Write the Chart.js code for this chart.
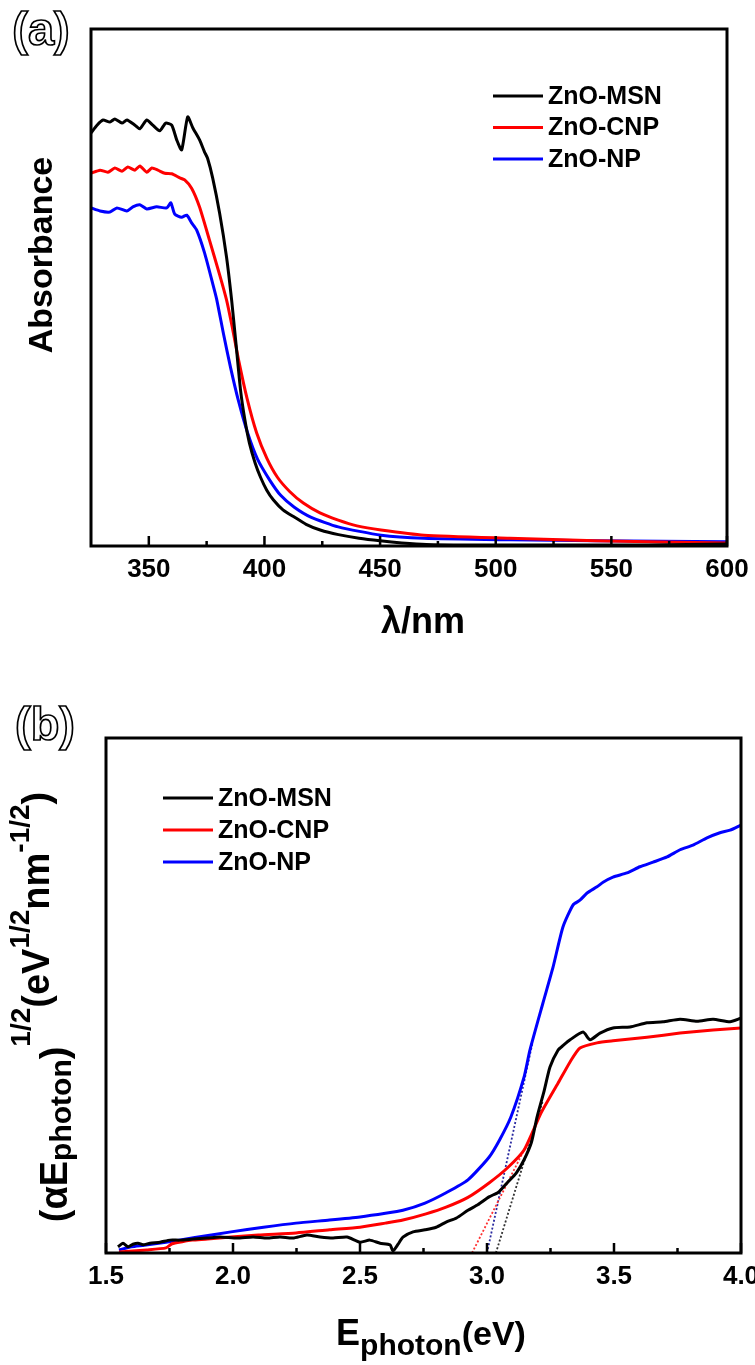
<!DOCTYPE html>
<html>
<head>
<meta charset="utf-8">
<script src="https://cdn.jsdelivr.net/npm/chart.js"></script>
<style>
  html, body { margin: 0; padding: 0; background: #fff; }
  #wrap { position: relative; width: 755px; height: 1365px; overflow: hidden; }
  #wrap canvas { position: absolute; left: 0; }
</style>
</head>
<body>
<div id="wrap">
  <canvas id="absChart" width="755" height="680" style="top:0"></canvas>
  <canvas id="taucChart" width="755" height="685" style="top:680px"></canvas>
</div>
<script>
const FONT = "'Liberation Sans', Arial, Helvetica, sans-serif";

// ---- (a) absorbance spectra ----
const absTicks = [350, 400, 450, 500, 550, 600];
const absMinorTicks = [375, 425, 475, 525, 575];

const msnNm = [325, 327.6, 330.2, 333.2, 335.3, 338.4, 340.5, 344.0, 346.1, 349.1, 351.7, 354.7, 357.3, 359.9, 362.1, 364.2, 366.8, 369.0, 372.0, 374.1, 375.4, 377.6, 380.6, 383.6, 385.8, 387.5, 389.7, 391.5, 393.5, 396.0, 398.3, 401.0, 403.9, 408.0, 412.9, 418.0, 424.1, 432.0, 440.9, 450.0, 459.4, 470.0, 487.4, 522.8, 565.9, 600];
const msnAbs = [0.799, 0.814, 0.824, 0.820, 0.826, 0.818, 0.824, 0.814, 0.807, 0.824, 0.814, 0.803, 0.818, 0.814, 0.785, 0.766, 0.830, 0.809, 0.785, 0.762, 0.750, 0.712, 0.644, 0.559, 0.476, 0.400, 0.300, 0.245, 0.199, 0.160, 0.133, 0.108, 0.089, 0.070, 0.056, 0.042, 0.031, 0.022, 0.015, 0.010, 0.006, 0.003, 0.002, 0.002, 0.002, 0.004];

const cnpNm = [325, 328.9, 332.3, 335.3, 338.4, 340.9, 344.0, 346.1, 349.1, 351.3, 353.9, 356.9, 359.9, 363.4, 365.5, 368.5, 371.9, 376.2, 380.6, 383.6, 386.0, 388.8, 392.5, 396.6, 401.0, 405.6, 411.0, 416.8, 424.0, 431.9, 440.0, 450.4, 469.0, 506.0, 543.1, 600];
const cnpAbs = [0.721, 0.727, 0.723, 0.731, 0.725, 0.733, 0.727, 0.735, 0.723, 0.731, 0.727, 0.721, 0.720, 0.712, 0.708, 0.692, 0.656, 0.592, 0.525, 0.476, 0.425, 0.360, 0.285, 0.219, 0.170, 0.133, 0.105, 0.083, 0.064, 0.050, 0.039, 0.031, 0.021, 0.015, 0.010, 0.006];

const npNm = [325, 328.9, 333.2, 336.2, 340.5, 343.1, 346.1, 349.1, 353.4, 357.8, 359.5, 361.2, 364.2, 366.4, 368.5, 370.7, 374.1, 377.6, 379.3, 382.3, 385.3, 388.8, 392.7, 397.0, 402.2, 407.0, 412.9, 420.0, 431.9, 450.4, 469.0, 506.0, 543.1, 600];
const npAbs = [0.654, 0.648, 0.646, 0.654, 0.648, 0.656, 0.660, 0.652, 0.656, 0.654, 0.664, 0.642, 0.636, 0.640, 0.625, 0.611, 0.567, 0.508, 0.478, 0.410, 0.346, 0.280, 0.219, 0.168, 0.128, 0.098, 0.075, 0.056, 0.037, 0.021, 0.015, 0.012, 0.010, 0.008];

// ---- (b) Tauc plot ----
const taucTicks = [1.5, 2.0, 2.5, 3.0, 3.5, 4.0];
const taucMinorTicks = [1.75, 2.25, 2.75, 3.25, 3.75];

const taucMsnEv = [1.547, 1.567, 1.587, 1.606, 1.626, 1.646, 1.673, 1.713, 1.752, 1.791, 1.843, 1.898, 1.949, 2.016, 2.079, 2.134, 2.185, 2.236, 2.291, 2.343, 2.394, 2.449, 2.500, 2.539, 2.579, 2.618, 2.630, 2.650, 2.669, 2.709, 2.756, 2.800, 2.839, 2.880, 2.925, 2.965, 3.008, 3.045, 3.079, 3.115, 3.146, 3.175, 3.197, 3.225, 3.248, 3.280, 3.300, 3.327, 3.378, 3.406, 3.445, 3.496, 3.563, 3.630, 3.693, 3.760, 3.827, 3.890, 3.957, 4.0];
const taucMsnVal = [0.012, 0.019, 0.012, 0.017, 0.019, 0.016, 0.019, 0.021, 0.025, 0.025, 0.027, 0.029, 0.031, 0.029, 0.031, 0.029, 0.031, 0.029, 0.035, 0.031, 0.029, 0.031, 0.021, 0.025, 0.019, 0.016, 0.004, 0.017, 0.031, 0.041, 0.045, 0.050, 0.060, 0.068, 0.083, 0.094, 0.109, 0.118, 0.136, 0.155, 0.181, 0.215, 0.264, 0.315, 0.361, 0.394, 0.403, 0.414, 0.429, 0.414, 0.427, 0.437, 0.439, 0.447, 0.449, 0.454, 0.450, 0.454, 0.449, 0.456];

const taucCnpEv = [1.551, 1.66, 1.736, 1.760, 1.800, 1.839, 1.900, 1.992, 2.100, 2.248, 2.380, 2.500, 2.600, 2.669, 2.760, 2.839, 2.925, 3.008, 3.080, 3.146, 3.213, 3.280, 3.327, 3.366, 3.433, 3.496, 3.630, 3.760, 3.890, 4.0];
const taucCnpVal = [0.002, 0.006, 0.010, 0.018, 0.022, 0.025, 0.027, 0.031, 0.035, 0.039, 0.045, 0.050, 0.058, 0.064, 0.076, 0.089, 0.108, 0.136, 0.165, 0.200, 0.272, 0.330, 0.371, 0.398, 0.408, 0.412, 0.419, 0.427, 0.433, 0.437];

const taucNpEv = [1.551, 1.600, 1.650, 1.736, 1.850, 1.992, 2.120, 2.248, 2.380, 2.500, 2.600, 2.669, 2.756, 2.839, 2.925, 3.008, 3.050, 3.094, 3.146, 3.169, 3.220, 3.260, 3.299, 3.339, 3.366, 3.394, 3.433, 3.457, 3.496, 3.551, 3.602, 3.654, 3.709, 3.760, 3.811, 3.866, 3.917, 3.957, 4.0];
const taucNpVal = [0.006, 0.012, 0.015, 0.021, 0.030, 0.041, 0.050, 0.058, 0.064, 0.070, 0.077, 0.083, 0.097, 0.117, 0.142, 0.186, 0.220, 0.264, 0.342, 0.394, 0.485, 0.555, 0.633, 0.676, 0.685, 0.699, 0.711, 0.720, 0.730, 0.738, 0.750, 0.759, 0.769, 0.783, 0.792, 0.806, 0.816, 0.821, 0.831];

// band-gap extrapolation lines
const fitMsnEv = [3.035, 3.22];
const fitMsnVal = [0, 0.296];
const fitCnpEv = [2.941, 3.15];
const fitCnpVal = [0, 0.204];
const fitNpEv = [3.0, 3.18];
const fitNpVal = [0, 0.41];

const seriesNames = ['ZnO-MSN', 'ZnO-CNP', 'ZnO-NP'];
const seriesColors = ['#000000', '#ff0000', '#0000ff'];

function xyPoints(xs, ys) {
  return xs.map((x, i) => ({ x, y: ys[i] }));
}

function curve(i, xs, ys) {
  return {
    label: seriesNames[i],
    data: xyPoints(xs, ys),
    borderColor: seriesColors[i],
    backgroundColor: seriesColors[i],
    borderWidth: 3,
    pointRadius: 0,
    tension: 0.2,
  };
}

function fitLine(xs, ys, color) {
  return {
    label: '',
    fitLine: true,
    data: xyPoints(xs, ys),
    borderColor: color,
    borderWidth: 1.8,
    borderDash: [2, 2],
    pointRadius: 0,
    tension: 0,
  };
}

// text made of runs with their own size and baseline shift
function drawRich(ctx, parts, x, y, angle) {
  ctx.save();
  ctx.translate(x, y);
  ctx.rotate(angle);
  ctx.textAlign = 'left';
  ctx.textBaseline = 'alphabetic';
  ctx.fillStyle = '#000';
  let total = 0;
  parts.forEach(p => {
    ctx.font = `bold ${p.size}px ${FONT}`;
    p.w = ctx.measureText(p.t).width;
    total += p.w;
  });
  let cx = -total / 2;
  parts.forEach(p => {
    ctx.font = `bold ${p.size}px ${FONT}`;
    ctx.fillText(p.t, cx, p.dy || 0);
    cx += p.w;
  });
  ctx.restore();
}

const decor = {
  id: 'decor',
  afterDatasetsDraw(chart, args, o) {
    const { ctx, chartArea: a } = chart;
    const xs = chart.scales.x;
    ctx.save();

    // inward ticks on the bottom axis
    ctx.strokeStyle = '#000';
    ctx.lineWidth = 2.5;
    ctx.beginPath();
    o.major.forEach(v => {
      const px = xs.getPixelForValue(v);
      ctx.moveTo(px, a.bottom);
      ctx.lineTo(px, a.bottom - 10);
    });
    o.minor.forEach(v => {
      const px = xs.getPixelForValue(v);
      ctx.moveTo(px, a.bottom);
      ctx.lineTo(px, a.bottom - 5);
    });
    ctx.stroke();

    // frame
    ctx.lineWidth = 3;
    ctx.strokeRect(a.left, a.top, a.right - a.left, a.bottom - a.top);

    // legend
    ctx.font = `bold 25px ${FONT}`;
    ctx.textBaseline = 'middle';
    ctx.textAlign = 'left';
    let row = 0;
    chart.data.datasets.forEach(ds => {
      if (ds.fitLine) return;
      const y = o.legend.y + row * o.legend.gap;
      ctx.strokeStyle = ds.borderColor;
      ctx.lineWidth = 3;
      ctx.beginPath();
      ctx.moveTo(o.legend.x, y);
      ctx.lineTo(o.legend.x + 50, y);
      ctx.stroke();
      ctx.fillStyle = '#000';
      ctx.fillText(ds.label, o.legend.x + 55, y + 1);
      row++;
    });

    // panel letter, hollow
    ctx.font = `bold 47px ${FONT}`;
    ctx.textAlign = 'center';
    ctx.textBaseline = 'alphabetic';
    ctx.lineWidth = 1.7;
    ctx.strokeStyle = '#000';
    ctx.fillStyle = '#fff';
    ctx.fillText(o.panel.t, o.panel.x, o.panel.y);
    ctx.strokeText(o.panel.t, o.panel.x, o.panel.y);
    ctx.restore();

    // axis titles
    drawRich(ctx, o.xTitle.parts, o.xTitle.x, o.xTitle.y, 0);
    drawRich(ctx, o.yTitle.parts, o.yTitle.x, o.yTitle.y, -Math.PI / 2);
  }
};

function buildScales(xMin, xMax, ticks, fmt, yWidth, xHeight) {
  return {
    x: {
      type: 'linear',
      min: xMin,
      max: xMax,
      afterBuildTicks: s => { s.ticks = ticks.map(v => ({ value: v })); },
      afterFit: s => { s.height = xHeight; s.paddingLeft = 0; s.paddingRight = 0; },
      grid: { display: false, drawTicks: false },
      border: { display: false },
      ticks: {
        autoSkip: false,
        maxRotation: 0,
        padding: 8,
        color: '#000',
        font: { family: FONT, size: 26, weight: 'bold' },
        callback: fmt,
      },
    },
    y: {
      min: 0,
      max: 1,
      afterFit: s => { s.width = yWidth; },
      grid: { display: false, drawTicks: false },
      border: { display: false },
      ticks: { display: false },
    },
  };
}

new Chart(document.getElementById('absChart'), {
  type: 'line',
  data: {
    datasets: [
      curve(0, msnNm, msnAbs),
      curve(1, cnpNm, cnpAbs),
      curve(2, npNm, npAbs),
    ],
  },
  options: {
    responsive: false,
    animation: false,
    events: [],
    layout: { padding: { top: 29, right: 28, bottom: 74, left: 0 } },
    scales: buildScales(325, 600, absTicks, v => String(v), 91, 60),
    plugins: {
      legend: { display: false },
      tooltip: { enabled: false },
      decor: {
        major: absTicks,
        minor: absMinorTicks,
        legend: { x: 493, y: 96, gap: 31.5 },
        panel: { t: '(a)', x: 41, y: 45 },
        xTitle: { x: 423, y: 633, parts: [{ t: 'λ/nm', size: 36 }] },
        yTitle: { x: 52, y: 255, parts: [{ t: 'Absorbance', size: 34 }] },
      },
    },
  },
  plugins: [decor],
});

new Chart(document.getElementById('taucChart'), {
  type: 'line',
  data: {
    datasets: [
      curve(0, taucMsnEv, taucMsnVal),
      curve(1, taucCnpEv, taucCnpVal),
      curve(2, taucNpEv, taucNpVal),
      fitLine(fitCnpEv, fitCnpVal, '#ff3030'),
      fitLine(fitNpEv, fitNpVal, '#2a2aa0'),
      fitLine(fitMsnEv, fitMsnVal, '#333333'),
    ],
  },
  options: {
    responsive: false,
    animation: false,
    events: [],
    layout: { padding: { top: 58, right: 14, bottom: 52, left: 0 } },
    scales: buildScales(1.5, 4.0, taucTicks, v => v.toFixed(1), 106, 60),
    plugins: {
      legend: { display: false },
      tooltip: { enabled: false },
      decor: {
        major: taucTicks,
        minor: taucMinorTicks,
        legend: { x: 163, y: 118, gap: 32 },
        panel: { t: '(b)', x: 45, y: 60 },
        xTitle: {
          x: 431, y: 665,
          parts: [{ t: 'E', size: 36 }, { t: 'photon', size: 30, dy: 10 }, { t: '(eV)', size: 34 }],
        },
        yTitle: {
          x: 67, y: 327,
          parts: [
            { t: '(αE', size: 38 },
            { t: 'photon', size: 30, dy: 4 },
            { t: ')', size: 38 },
            { t: '1/2', size: 28, dy: -37 },
            { t: '(eV', size: 38, dy: -18 },
            { t: '1/2', size: 28, dy: -38 },
            { t: 'nm', size: 38, dy: -18 },
            { t: '-1/2', size: 28, dy: -38 },
            { t: ')', size: 38, dy: -18 },
          ],
        },
      },
    },
  },
  plugins: [decor],
});
</script>
</body>
</html>
